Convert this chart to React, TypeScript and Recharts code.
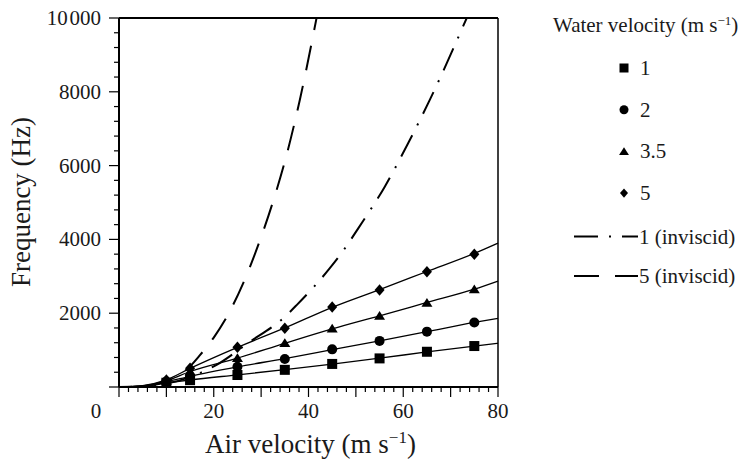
import { ComposedChart, Line, Scatter, XAxis, YAxis, ReferenceLine, Legend, Label } from 'recharts';

// air velocity (m/s) where the measured points sit
const markerAirVelocity = [10, 15, 25, 35, 45, 55, 65, 75];
// air velocity used for the fitted solid curves
const fitAirVelocity = [0, 5, 10, 15, 25, 35, 45, 55, 65, 75, 80];

// measured frequency (Hz) for each water velocity
const water1Points = [115, 185, 325, 465, 625, 775, 955, 1110];
const water2Points = [150, 290, 550, 760, 1020, 1250, 1500, 1750];
const water35Points = [170, 430, 785, 1195, 1585, 1930, 2285, 2650];
const water5Points = [190, 510, 1080, 1590, 2170, 2630, 3125, 3600];

// fitted curves through the measured points
const water1Fit = [0, 20, 110, 190, 330, 470, 620, 780, 950, 1110, 1185];
const water2Fit = [0, 25, 140, 290, 545, 770, 1010, 1250, 1500, 1750, 1860];
const water35Fit = [0, 30, 170, 420, 785, 1185, 1575, 1930, 2290, 2650, 2870];
const water5Fit = [0, 40, 195, 505, 1075, 1600, 2160, 2640, 3130, 3620, 3900];

// inviscid theory curves
const inviscid1X = [0, 5, 10, 15, 18.5, 20.6, 27, 35.4, 37.5, 44.5, 47.7, 50.5, 56.1, 61, 65.6, 73.4];
const inviscid1F = [0, 15, 90, 270, 460, 600, 1170, 1950, 2220, 3220, 3760, 4300, 5430, 6600, 7780, 10000];
const inviscid5X = [0, 5, 10, 15, 17, 20, 22.4, 26.2, 29.4, 32.4, 35.4, 38.2, 41.7];
const inviscid5F = [0, 20, 150, 560, 850, 1340, 1820, 2810, 3850, 4980, 6300, 7800, 10000];

const xTicks = [0, 2, 4, 6, 8, 10, 12, 14, 16, 18, 20, 22, 24, 26, 28, 30, 32, 34, 36, 38, 40,
  42, 44, 46, 48, 50, 52, 54, 56, 58, 60, 62, 64, 66, 68, 70, 72, 74, 76, 78, 80];
const xLabels = [0, 20, 40, 60, 80];
const yTicks = [0, 400, 800, 1200, 1600, 2000, 2400, 2800, 3200, 3600, 4000, 4400, 4800, 5200,
  5600, 6000, 6400, 6800, 7200, 7600, 8000, 8400, 8800, 9200, 9600, 10000];
const yLabels = [2000, 4000, 6000, 8000, 10000];

const FONT = "'Liberation Serif', Tinos, 'Times New Roman', serif";
const INK = '#1a1a1a';
const txt = (size: number) => ({ fontFamily: FONT, fontSize: size });

const toXY = (xs: number[], ys: number[]) => ys.map((y, i) => ({ x: xs[i], y }));

const measured = [
  { label: '1', kind: 'square', points: water1Points, fit: water1Fit },
  { label: '2', kind: 'circle', points: water2Points, fit: water2Fit },
  { label: '3.5', kind: 'triangle', points: water35Points, fit: water35Fit },
  { label: '5', kind: 'diamond', points: water5Points, fit: water5Fit },
];

const inviscid = [
  { label: '1 (inviscid)', xs: inviscid1X, ys: inviscid1F, dash: '24 11 2 11', offset: 0 },
  { label: '5 (inviscid)', xs: inviscid5X, ys: inviscid5F, dash: '25 16', offset: 12 },
];

function Marker({ kind, cx, cy, s }: { kind: string; cx: number; cy: number; s: number }) {
  const h = s / 2;
  if (kind === 'square') return <rect x={cx - h} y={cy - h} width={s} height={s} fill="#000" />;
  if (kind === 'circle') return <circle cx={cx} cy={cy} r={h} fill="#000" />;
  if (kind === 'triangle')
    return (
      <polygon
        points={`${cx},${cy - h * 0.95} ${cx + h * 1.1},${cy + h * 0.8} ${cx - h * 1.1},${cy + h * 0.8}`}
        fill="#000"
      />
    );
  return (
    <polygon
      points={`${cx},${cy - h * 1.15} ${cx + h},${cy} ${cx},${cy + h * 1.15} ${cx - h},${cy}`}
      fill="#000"
    />
  );
}

const renderXTick = (props: any) => {
  const { x, y, payload } = props;
  const v = payload.value;
  const major = v % 10 === 0;
  return (
    <g>
      <line x1={x} y1={y} x2={x} y2={y + (major ? 10 : 5)} stroke="#000" strokeWidth={1.2} />
      {xLabels.includes(v) && (
        <text x={v === 0 ? x - 23 : x} y={y + 31} textAnchor="middle" style={txt(21)} fill={INK}>
          {v}
        </text>
      )}
    </g>
  );
};

const renderYTick = (props: any) => {
  const { x, y, payload } = props;
  const v = payload.value;
  const major = v % 2000 === 0;
  return (
    <g>
      <line x1={x} y1={y} x2={x - (major ? 10 : 5)} y2={y} stroke="#000" strokeWidth={1.2} />
      {yLabels.includes(v) && (
        <text x={x - 18} y={y + 7} textAnchor="end" style={txt(21)} fill={INK}>
          {v === 10000 ? '10\u200A000' : v}
        </text>
      )}
    </g>
  );
};

const renderLegend = () => (
  <svg width={204} height={300} style={{ display: 'block' }}>
    <text x={13} y={32} style={txt(21)} fill={INK}>
      Water velocity (m s<tspan dy={-7} style={txt(13)}>−1</tspan>
      <tspan dy={7}>)</tspan>
    </text>
    {measured.map((m, i) => {
      const cy = 68 + i * 41.7;
      return (
        <g key={m.label}>
          <Marker kind={m.kind} cx={84} cy={cy} s={m.kind === 'diamond' ? 8 : 9} />
          <text x={100} y={cy + 7} style={txt(21)} fill={INK}>
            {m.label}
          </text>
        </g>
      );
    })}
    {inviscid.map((c, i) => {
      const cy = 236.5 + i * 39.5;
      return (
        <g key={c.label}>
          <line x1={34} y1={cy} x2={98} y2={cy} stroke="#000" strokeWidth={2} strokeDasharray={c.dash} />
          <text x={99} y={cy + 7} style={txt(21)} fill={INK}>
            {c.label}
          </text>
        </g>
      );
    })}
  </svg>
);

const renderXLabel = (props: any) => {
  const vb = props.viewBox || { x: 119, y: 387, width: 379 };
  const cx = vb.x + vb.width / 2;
  return (
    <text x={cx + 2} y={453} textAnchor="middle" style={txt(27)} fill={INK}>
      Air velocity (m s<tspan dy={-10} style={txt(17)}>−1</tspan>
      <tspan dy={10}>)</tspan>
    </text>
  );
};

const renderYLabel = () => (
  <text x={30} y={202} transform="rotate(-90 30 202)" textAnchor="middle" style={txt(27)} fill={INK}>
    Frequency (Hz)
  </text>
);

export default function App() {
  return (
    <div style={{ position: 'absolute', left: 0, top: 0, width: 744, height: 462, background: '#fff' }}>
      <ComposedChart width={744} height={462} margin={{ top: 18, right: 246, bottom: 0, left: 0 }}>
        <XAxis
          type="number"
          dataKey="x"
          domain={[0, 80]}
          ticks={xTicks}
          interval={0}
          tick={renderXTick}
          tickLine={false}
          tickSize={0}
          tickMargin={0}
          height={75}
          axisLine={{ stroke: '#000', strokeWidth: 2 }}
        >
          <Label content={renderXLabel} />
        </XAxis>
        <YAxis
          type="number"
          domain={[0, 10000]}
          allowDataOverflow
          ticks={yTicks}
          interval={0}
          tick={renderYTick}
          tickLine={false}
          tickSize={0}
          tickMargin={0}
          width={119}
          axisLine={{ stroke: '#000', strokeWidth: 2 }}
        >
          <Label content={renderYLabel} />
        </YAxis>
        <ReferenceLine y={10000} stroke="#000" strokeWidth={2} />
        <ReferenceLine x={80} stroke="#000" strokeWidth={1.5} />
        {inviscid.map((c) => (
          <Line
            key={c.label}
            data={toXY(c.xs, c.ys)}
            dataKey="y"
            type="monotone"
            stroke="#000"
            strokeWidth={2}
            strokeDasharray={c.dash}
            strokeDashoffset={c.offset}
            dot={false}
            activeDot={false}
            isAnimationActive={false}
          />
        ))}
        {measured.map((m) => (
          <Line
            key={'fit' + m.label}
            data={toXY(fitAirVelocity, m.fit)}
            dataKey="y"
            type="monotone"
            stroke="#000"
            strokeWidth={1.3}
            dot={false}
            activeDot={false}
            isAnimationActive={false}
          />
        ))}
        {measured.map((m) => (
          <Scatter
            key={'pts' + m.label}
            data={toXY(markerAirVelocity, m.points)}
            dataKey="y"
            fill="#000"
            isAnimationActive={false}
            shape={(p: any) => <Marker kind={m.kind} cx={p.cx} cy={p.cy} s={10} />}
          />
        ))}
        <Legend
          content={renderLegend}
          layout="horizontal"
          verticalAlign="middle"
          align="center"
          wrapperStyle={{ position: 'absolute', left: 540, top: 0, width: 204, height: 300 }}
        />
      </ComposedChart>
    </div>
  );
}
